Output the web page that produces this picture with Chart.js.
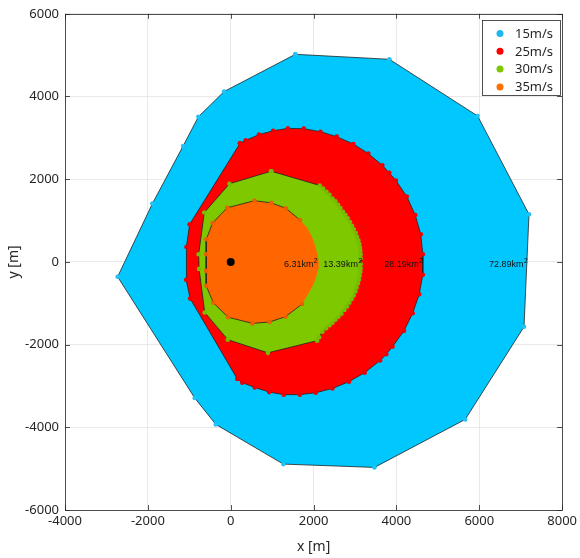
<!DOCTYPE html>
<html><head><meta charset="utf-8">
<script src="https://cdn.jsdelivr.net/npm/chart.js@4/dist/chart.umd.min.js"></script>
<style>html,body{margin:0;padding:0;background:#fff}#wrap{width:580px;height:558px}</style>
</head><body><div id="wrap"><canvas id="c" width="580" height="558"></canvas></div>
<script>
// ---- data (metres) ----
const seriesNames = ['15m/s', '25m/s', '30m/s', '35m/s'];
const xTicks = [-4000, -2000, 0, 2000, 4000, 6000, 8000];
const yTicks = [-6000, -4000, -2000, 0, 2000, 4000, 6000];

const blueX = [1560, 3830, 5960, 7200, 7080, 5660, 3470, 1270, -360, -870, -2730, -1890, -1150, -780, -160];
const blueY = [5020, 4900, 3530, 1150, -1570, -3810, -4970, -4890, -3930, -3290, -360, 1410, 2800, 3510, 4120];

const redX = [224, 361, 681, 1026, 1379, 1765, 2167, 2559, 2961, 3322, 3659, 3828, 3987, 4251, 4454, 4588, 4637, 4637, 4550, 4393, 4184, 3907, 3755, 3606, 3233, 2855, 2455, 2053, 1668, 1283, 927, 580, 279, 159, -980, -1076, -1069, -992];
const redY = [2867, 2940, 3077, 3173, 3229, 3222, 3149, 3029, 2851, 2619, 2337, 2152, 1969, 1583, 1133, 667, 186, -313, -783, -1241, -1667, -2048, -2234, -2386, -2680, -2896, -3060, -3164, -3210, -3210, -3149, -3036, -2920, -2831, -887, -434, 361, 908];

const greenX = [977, 2150, 2229, 2311, 2383, 2455, 2527, 2590, 2648, 2710, 2768, 2823, 2879, 2927, 2968, 3016, 3047, 3081, 3105, 3119, 3129, 3136, 3136, 3136, 3136, 3129, 3112, 3095, 3071, 3040, 3009, 2968, 2920, 2864, 2807, 2744, 2672, 2600, 2527, 2455, 2383, 2301, 2214, 2133, 2085, 898, -70, -628, -763, -773, -638, -30];
const greenY = [2193, 1849, 1776, 1694, 1622, 1535, 1463, 1381, 1301, 1212, 1133, 1053, 964, 875, 788, 699, 610, 523, 434, 345, 265, 176, 89, -55, -152, -241, -337, -434, -523, -619, -716, -812, -899, -988, -1077, -1164, -1253, -1326, -1398, -1470, -1535, -1607, -1687, -1824, -1904, -2200, -1880, -1222, -169, 186, 1193, 1890];

// 35 m/s: outlined vertices (left/top/bottom) and the smooth unmarked right arc
const orangeEdgeX = [1675, 1331, 982, 573, -84, -438, -590, -595, -595, -590, -419, -65, 525, 939, 1323, 1723];
const orangeEdgeY = [1012, 1297, 1427, 1480, 1309, 940, 547, 186, -217, -578, -988, -1337, -1487, -1453, -1325, -1019];
const orangeArcX = [1868, 1981, 2060, 2109, 2125, 2084, 2029, 1950, 1844];
const orangeArcY = [-778, -578, -378, -176, 24, 224, 427, 627, 827];

const sourceX = [0];
const sourceY = [0];

const areaLabels = ['6.31km', '13.39km', '28.19km', '72.89km'];
const areaLabelX = [1690, 2700, 4170, 6700];
const areaLabelY = [-70, -70, -70, -70];

// ---- styling ----
const fills = ['rgb(0,200,255)', 'rgb(255,0,0)', 'rgb(126,200,0)', 'rgb(255,102,0)'];
const markers = ['#22c2f2', '#ee0000', '#76be00', '#e86000'];
const legendMarkers = ['#1cb8ee', '#ff0000', '#7ec800', '#ff7000'];
const EDGE = '#222222';
const TXT = '#262626';

function pts(xs, ys) { return xs.map((x, i) => ({ x: x, y: ys[i] })); }
function closed(xs, ys) {
  const p = pts(xs, ys);
  p.push({ x: xs[0], y: ys[0] });
  return p;
}

function poly(idx, xs, ys, order) {
  return {
    label: seriesNames[idx],
    data: closed(xs, ys),
    showLine: true,
    fill: 'shape',
    backgroundColor: fills[idx],
    borderColor: EDGE,
    borderWidth: 0.8,
    pointRadius: 2.3,
    pointHoverRadius: 2.3,
    pointBackgroundColor: markers[idx],
    pointBorderColor: markers[idx],
    pointBorderWidth: 0,
    tension: 0,
    order: order
  };
}

const orangeAll = pts(orangeEdgeX, orangeEdgeY).concat(pts(orangeArcX, orangeArcY));
orangeAll.push({ x: orangeEdgeX[0], y: orangeEdgeY[0] });

const datasets = [
  poly(0, blueX, blueY, 6),
  poly(1, redX, redY, 5),
  poly(2, greenX, greenY, 4),
  {
    label: seriesNames[3] + ' fill',
    data: orangeAll,
    showLine: true,
    fill: 'shape',
    backgroundColor: fills[3],
    borderColor: fills[3],
    borderWidth: 0,
    pointRadius: 0,
    tension: 0,
    order: 3
  },
  {
    label: seriesNames[3],
    data: pts(orangeEdgeX, orangeEdgeY),
    showLine: true,
    fill: false,
    borderColor: EDGE,
    borderWidth: 0.8,
    pointRadius: 2.3,
    pointHoverRadius: 2.3,
    pointBackgroundColor: markers[3],
    pointBorderColor: markers[3],
    pointBorderWidth: 0,
    tension: 0,
    order: 2
  },
  {
    label: 'source',
    data: pts(sourceX, sourceY),
    showLine: false,
    pointRadius: 4,
    pointHoverRadius: 4,
    pointBackgroundColor: '#000',
    pointBorderColor: '#000',
    pointBorderWidth: 0,
    order: 0
  }
];

const decor = {
  id: 'decor',
  afterDatasetsDraw(chart) {
    const ctx = chart.ctx;
    const xs = chart.scales.x, ys = chart.scales.y;
    ctx.save();
    ctx.fillStyle = '#111';
    ctx.textBaseline = 'middle';
    for (let i = 0; i < areaLabels.length; i++) {
      const px = xs.getPixelForValue(areaLabelX[i]);
      const py = ys.getPixelForValue(areaLabelY[i]);
      ctx.font = '9px "Liberation Sans", Arial, sans-serif';
      const w1 = ctx.measureText(areaLabels[i]).width;
      ctx.font = '7px "Liberation Sans", Arial, sans-serif';
      const w2 = ctx.measureText('2').width;
      const left = px - (w1 + w2) / 2;
      ctx.font = '9px "Liberation Sans", Arial, sans-serif';
      ctx.textAlign = 'left';
      ctx.fillText(areaLabels[i], left, py);
      ctx.font = '7px "Liberation Sans", Arial, sans-serif';
      ctx.fillText('2', left + w1 + 0.3, py - 4);
    }
    ctx.restore();
  },
  afterDraw(chart) {
    const ctx = chart.ctx;
    const xs = chart.scales.x, ys = chart.scales.y;
    const a = chart.chartArea;
    ctx.save();
    ctx.strokeStyle = TXT;
    ctx.lineWidth = 0.8;
    ctx.strokeRect(Math.round(a.left) + 0.5, Math.round(a.top) + 0.5, Math.round(a.right - a.left), Math.round(a.bottom - a.top));
    ctx.beginPath();
    xTicks.forEach(v => {
      const p = Math.round(xs.getPixelForValue(v)) + 0.5;
      ctx.moveTo(p, a.bottom); ctx.lineTo(p, a.bottom - 5);
      ctx.moveTo(p, a.top); ctx.lineTo(p, a.top + 5);
    });
    yTicks.forEach(v => {
      const p = Math.round(ys.getPixelForValue(v)) + 0.5;
      ctx.moveTo(a.left, p); ctx.lineTo(a.left + 5, p);
      ctx.moveTo(a.right, p); ctx.lineTo(a.right - 5, p);
    });
    ctx.stroke();
    // legend box
    const bx = 482.5, by = 20.5, bw = 78, bh = 75;
    ctx.fillStyle = '#fff';
    ctx.fillRect(bx, by, bw, bh);
    ctx.strokeStyle = '#262626';
    ctx.lineWidth = 0.8;
    ctx.strokeRect(bx, by, bw, bh);
    ctx.font = '13px "Noto Sans", sans-serif';
    ctx.textBaseline = 'middle';
    ctx.textAlign = 'left';
    for (let i = 0; i < seriesNames.length; i++) {
      const yy = 33.5 + i * 17.8;
      ctx.fillStyle = legendMarkers[i];
      ctx.beginPath();
      ctx.arc(500, yy, 3.5, 0, Math.PI * 2);
      ctx.fill();
      ctx.fillStyle = TXT;
      ctx.fillText(seriesNames[i], 515, yy + 0.5);
    }
    ctx.restore();
  }
};

const tickFmt = v => String(v);

new Chart(document.getElementById('c'), {
  type: 'scatter',
  data: { datasets: datasets },
  options: {
    responsive: false,
    animation: false,
    devicePixelRatio: 1,
    layout: { padding: { top: 12, right: 16, left: 0, bottom: 0 } },
    plugins: { legend: { display: false }, tooltip: { enabled: false } },
    scales: {
      x: {
        type: 'linear', min: -4000, max: 8000,
        afterBuildTicks: s => { s.ticks = xTicks.map(v => ({ value: v })); },
        afterFit: s => { s.height = 48; },
        grid: { color: '#e3e3e3', lineWidth: 0.8, drawTicks: false },
        border: { display: false },
        ticks: { color: TXT, font: { family: '"Noto Sans", sans-serif', size: 13 }, padding: 3, maxRotation: 0, autoSkip: false, callback: tickFmt },
        title: { display: true, text: 'x [m]', color: TXT, font: { family: '"Noto Sans", sans-serif', size: 14 }, padding: { top: 0, bottom: 3 } }
      },
      y: {
        type: 'linear', min: -6000, max: 6000,
        afterBuildTicks: s => { s.ticks = yTicks.map(v => ({ value: v })); },
        afterFit: s => { s.width = 65; },
        grid: { color: '#e3e3e3', lineWidth: 0.8, drawTicks: false },
        border: { display: false },
        ticks: { color: TXT, font: { family: '"Noto Sans", sans-serif', size: 13 }, padding: 6, autoSkip: false, callback: tickFmt },
        title: { display: true, text: 'y [m]', color: TXT, font: { family: '"Noto Sans", sans-serif', size: 14 }, padding: { top: 6, bottom: 0 } }
      }
    }
  },
  plugins: [decor]
});
</script>
</body></html>
